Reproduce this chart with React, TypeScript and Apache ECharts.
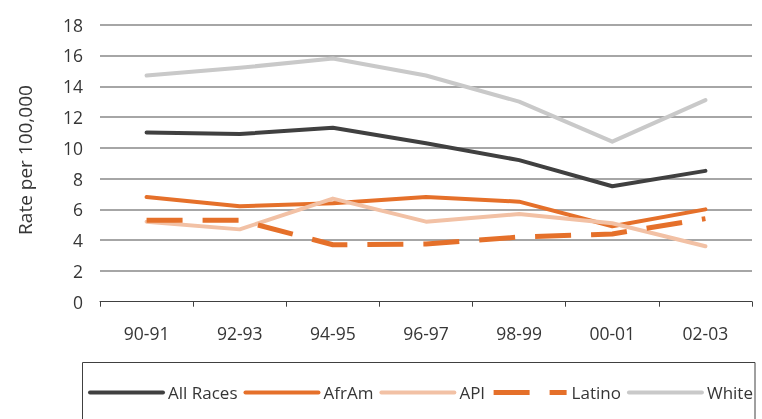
import React, { useEffect, useRef } from "react";
import * as echarts from "echarts";

const categories = ["90-91", "92-93", "94-95", "96-97", "98-99", "00-01", "02-03"];
const allRaces = [11.0, 10.9, 11.3, 10.3, 9.2, 7.5, 8.5];
const afrAm = [6.8, 6.2, 6.4, 6.8, 6.5, 4.9, 6.0];
const api = [5.2, 4.7, 6.7, 5.2, 5.7, 5.1, 3.6];
const latino = [5.3, 5.3, 3.7, 3.75, 4.2, 4.4, 5.4];
const white = [14.7, 15.2, 15.8, 14.7, 13.0, 10.4, 13.1];
const yTicks = { min: 0, max: 18, interval: 2 };
const yTitle = "Rate per 100,000";

const FONT = "'Open Sans', 'Noto Sans', sans-serif";
const TEXT = "#363636";

export default function App() {
  const ref = useRef<HTMLDivElement>(null);
  useEffect(() => {
    if (!ref.current) return;
    const chart = echarts.init(ref.current, undefined, { renderer: "svg" });
    const mk = (name: string, data: number[], color: string, dashed = false) => ({
      name,
      type: "line",
      data,
      symbol: "none",
      lineStyle: {
        color,
        width: dashed ? 5 : 4,
        type: dashed ? [36, 20] : "solid",
        cap: dashed ? "butt" : "round",
        join: "round",
      },
      itemStyle: { color },
    });
    const solidIcon = { width: 4, cap: "round", type: "solid" };
    chart.setOption({
      animation: false,
      textStyle: { fontFamily: FONT, color: TEXT },
      grid: { left: 100, right: 10, top: 24.7, bottom: 117.3 },
      xAxis: {
        type: "category",
        data: categories,
        boundaryGap: true,
        axisLine: { lineStyle: { color: "#404040", width: 1 } },
        axisTick: { show: true, length: 5, lineStyle: { color: "#404040" } },
        axisLabel: { color: TEXT, fontSize: 17.5, margin: 22, fontFamily: FONT },
      },
      yAxis: {
        type: "value",
        min: yTicks.min,
        max: yTicks.max,
        interval: yTicks.interval,
        axisLine: { show: false },
        axisTick: { show: false },
        axisLabel: { color: TEXT, fontSize: 17.5, margin: 17, fontFamily: FONT },
        splitLine: { show: true, showMinLine: false, lineStyle: { color: "#a6a6a6", width: 2 } },
      },
      legend: {
        left: 88,
        top: 384,
        itemWidth: 73,
        itemHeight: 14,
        itemGap: 6,
        padding: 0,
        itemStyle: { opacity: 0 },
        textStyle: { color: TEXT, fontSize: 17, fontFamily: FONT },
        data: [
          { name: "All Races", lineStyle: solidIcon },
          { name: "AfrAm", lineStyle: solidIcon },
          { name: "API", lineStyle: solidIcon },
          { name: "Latino", lineStyle: { width: 5, cap: "butt", type: [36, 20] } },
          { name: "White", lineStyle: solidIcon },
        ],
      },
      graphic: [
        {
          type: "rect",
          shape: { x: 82.5, y: 362.5, width: 672.5, height: 80 },
          style: { fill: "none", stroke: "#404040", lineWidth: 1 },
          silent: true,
        },
        {
          type: "text",
          x: 25,
          y: 160,
          rotation: Math.PI / 2,
          style: {
            text: yTitle,
            align: "center",
            verticalAlign: "middle",
            fontSize: 19,
            fontFamily: FONT,
            fill: TEXT,
          },
        },
      ],
      series: [
        mk("All Races", allRaces, "#404040"),
        mk("AfrAm", afrAm, "#e5702a"),
        mk("API", api, "#f2c1a5"),
        mk("Latino", latino, "#e5702a", true),
        mk("White", white, "#c9c9c9"),
      ],
    });
    return () => chart.dispose();
  }, []);
  return (
    <div
      ref={ref}
      style={{ position: "fixed", left: 0, top: 0, width: 762, height: 419 }}
    />
  );
}
